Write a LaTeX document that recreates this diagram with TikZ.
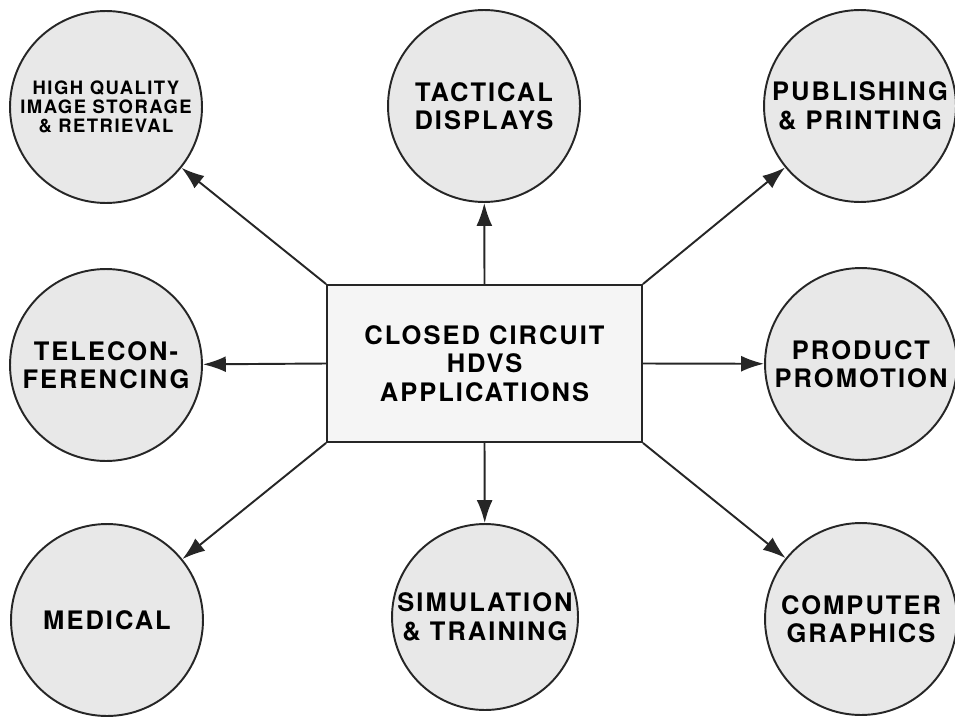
\documentclass[tikz,border=0pt]{standalone}
\usepackage{fontspec}
\usetikzlibrary{arrows.meta}
\newfontfamily\labfont{TeX Gyre Heros}[LetterSpace=8]
\begin{document}
\begin{tikzpicture}[x=0.02cm,y=-0.02cm,
  bubble/.style={circle,draw=black!85,line width=1.1pt,fill=black!9,
    minimum size=3.84cm,inner sep=0pt,align=center,
    font=\labfont\bfseries\fontsize{14.5}{16.2}\selectfont},
  smallbubble/.style={bubble,font=\labfont\bfseries\fontsize{10.5}{10.9}\selectfont},
  hub/.style={rectangle,draw=black!85,line width=1.1pt,fill=black!4,
    minimum width=6.3cm,minimum height=3.14cm,inner sep=0pt,align=center,
    font=\labfont\bfseries\fontsize{14.5}{16.2}\selectfont},
  feed/.style={draw=black!85,line width=1.1pt,-{Latex[length=13pt,width=9pt]}}]
  \useasboundingbox (0,0) rectangle (955,716);

  % central box
  \node[hub] (hub) at (484.5,363.5) {CLOSED CIRCUIT\\HDVS\\APPLICATIONS};

  % application areas
  \node[smallbubble] (store) at (106,107) {HIGH QUALITY\\IMAGE STORAGE\\\& RETRIEVAL};
  \node[bubble] (tact)  at (484,106) {TACTICAL\\DISPLAYS};
  \node[bubble] (pub)   at (860,106) {PUBLISHING\\\& PRINTING};
  \node[bubble] (tele)  at (106,365) {TELECON-\\FERENCING};
  \node[bubble] (prod)  at (861,364) {PRODUCT\\PROMOTION};
  \node[bubble] (med)   at (107,620) {MEDICAL};
  \node[bubble,minimum size=3.72cm] (sim) at (485,617) {SIMULATION\\\& TRAINING};
  \node[bubble] (cg)    at (861,619) {COMPUTER\\GRAPHICS};

  % connectors from the box to each area
  \draw[feed] (hub.north west) -- (store);
  \draw[feed] (hub.north) -- (tact);
  \draw[feed] (hub.north east) -- (pub);
  \draw[feed] (hub.west) -- (tele);
  \draw[feed] (hub.east) -- (prod);
  \draw[feed] (hub.south west) -- (med);
  \draw[feed] (hub.south) -- (sim);
  \draw[feed] (hub.south east) -- (cg);
\end{tikzpicture}
\end{document}
